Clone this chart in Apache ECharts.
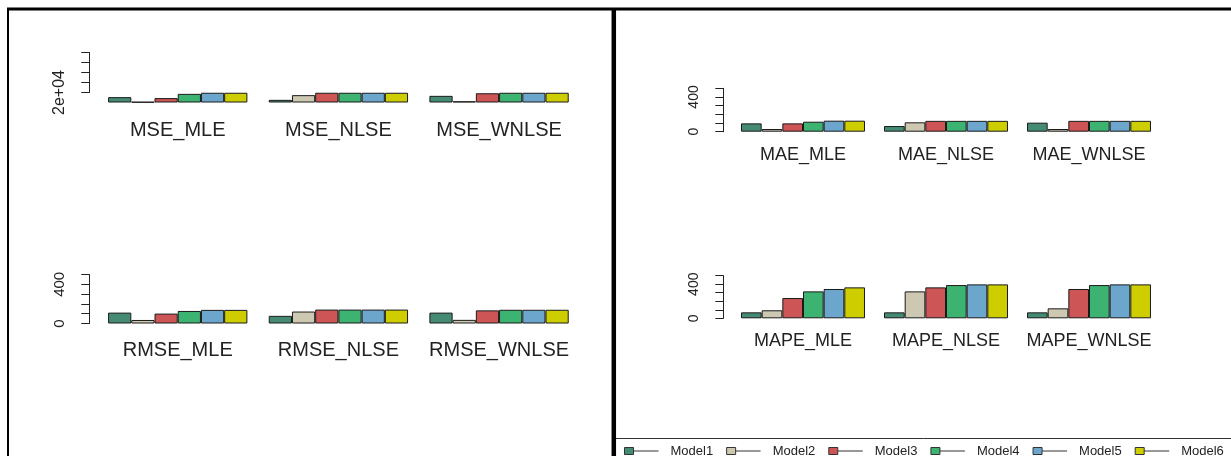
<!DOCTYPE html>
<html>
<head>
<meta charset="utf-8">
<script src="https://cdn.jsdelivr.net/npm/echarts@6/dist/echarts.min.js"></script>
<style>
  html, body { margin: 0; padding: 0; background: #ffffff; }
  #chart { width: 1231px; height: 456px; }
</style>
</head>
<body>
<div id="chart"></div>
<script>
// Models compared in every panel
const models = ['Model1', 'Model2', 'Model3', 'Model4', 'Model5', 'Model6'];
const modelColors = ['#458B74', '#CDC8B1', '#CD5555', '#3CB371', '#6CA6CD', '#CDCD00'];

// Error measure per estimation method
const mseCategories = ['MSE_MLE', 'MSE_NLSE', 'MSE_WNLSE'];
const rmseCategories = ['RMSE_MLE', 'RMSE_NLSE', 'RMSE_WNLSE'];
const maeCategories = ['MAE_MLE', 'MAE_NLSE', 'MAE_WNLSE'];
const mapeCategories = ['MAPE_MLE', 'MAPE_NLSE', 'MAPE_WNLSE'];

// One row per model; columns follow the category order (MLE, NLSE, WNLSE)
const mseValues = [
  [10700, 5300, 13300],
  [1200, 14700, 2500],
  [8800, 19500, 18500],
  [17300, 19500, 19500],
  [19500, 19500, 19500],
  [19500, 19500, 19500]
];
const rmseValues = [
  [111, 78, 111],
  [36, 122, 37],
  [101, 142, 134],
  [128, 142, 140],
  [139, 142, 140],
  [139, 142, 140]
];
const maeValues = [
  [96, 65, 104],
  [31, 108, 31],
  [96, 125, 125],
  [115, 125, 125],
  [127, 125, 125],
  [127, 125, 125]
];
const mapeValues = [
  [70, 70, 70],
  [94, 316, 117],
  [238, 363, 344],
  [316, 390, 390],
  [344, 398, 398],
  [363, 398, 398]
];

// Value-axis ticks and the ones that carry a label
const mseTicks = { min: 20000, max: 100000, step: 20000 };
const mseTickLabels = [20000];
const errTicks = { min: 0, max: 500, step: 100 };
const errTickLabels = [0, 400];

const FONT = '"Liberation Sans", Arial, Helvetica, sans-serif';

// R-style scientific label, e.g. 20000 -> "2e+04"
function sciLabel(v) {
  if (v === 0) return '0';
  if (Math.abs(v) < 1000) return String(v);
  const [m, e] = v.toExponential(0).split('e');
  const sign = e[0];
  const digits = e.slice(1).padStart(2, '0');
  return m + 'e' + sign + digits;
}

const grid = [], xAxis = [], yAxis = [], series = [];

function addPanel(p) {
  const g = grid.length;
  const plotH = p.zeroY - p.topY;
  // bars
  grid.push({ left: p.catLeft, top: p.topY, width: p.catWidth, height: plotH });
  xAxis.push({
    type: 'category', gridIndex: g, data: p.categories,
    axisLine: { show: false }, axisTick: { show: false }, splitLine: { show: false },
    axisLabel: { fontFamily: FONT, fontSize: p.nameSize, color: '#222', margin: p.nameMargin, interval: 0 }
  });
  yAxis.push({ type: 'value', gridIndex: g, min: 0, max: p.ticks.max, show: false });
  models.forEach((name, m) => {
    series.push({
      type: 'bar', name, xAxisIndex: g, yAxisIndex: g,
      data: p.values[m],
      barGap: '0%', barCategoryGap: '13.3%',
      itemStyle: { color: modelColors[m], borderColor: '#1a1a1a', borderWidth: 1 },
      emphasis: { disabled: true }
    });
  });
  // the value axis, drawn only across its tick span
  const a = grid.length;
  const spanBottom = p.zeroY - (p.ticks.min / p.ticks.max) * plotH;
  grid.push({ left: p.spineX, top: p.topY, width: 1, height: spanBottom - p.topY });
  xAxis.push({ type: 'value', gridIndex: a, min: 0, max: 1, show: false });
  yAxis.push({
    type: 'value', gridIndex: a, min: p.ticks.min, max: p.ticks.max, interval: p.ticks.step,
    axisLine: { show: true, lineStyle: { color: '#222', width: 1 } },
    axisTick: { show: true, length: 8, lineStyle: { color: '#222', width: 1 } },
    splitLine: { show: false },
    axisLabel: {
      rotate: 90, margin: p.tickMargin, fontFamily: FONT, fontSize: p.tickSize, color: '#222',
      formatter: v => (p.labelled.includes(v) ? sciLabel(v) : '')
    }
  });
}

// left column
addPanel({ categories: mseCategories, values: mseValues, ticks: mseTicks, labelled: mseTickLabels,
  catLeft: 97.4, catWidth: 482, spineX: 89.3, zeroY: 102.5, topY: 52.5,
  nameSize: 20, nameMargin: 18, tickSize: 16, tickMargin: 22 });
addPanel({ categories: rmseCategories, values: rmseValues, ticks: errTicks, labelled: errTickLabels,
  catLeft: 97.4, catWidth: 482, spineX: 89.3, zeroY: 323.5, topY: 274.5,
  nameSize: 20, nameMargin: 17, tickSize: 15, tickMargin: 22 });
// right column
addPanel({ categories: maeCategories, values: maeValues, ticks: errTicks, labelled: errTickLabels,
  catLeft: 731.5, catWidth: 429, spineX: 723.3, zeroY: 131.7, topY: 88.3,
  nameSize: 18, nameMargin: 14, tickSize: 14, tickMargin: 22 });
addPanel({ categories: mapeCategories, values: mapeValues, ticks: errTicks, labelled: errTickLabels,
  catLeft: 731.5, catWidth: 429, spineX: 723.3, zeroY: 318.3, topY: 275.7,
  nameSize: 18, nameMargin: 14, tickSize: 14, tickMargin: 22 });

const chart = echarts.init(document.getElementById('chart'), null, { renderer: 'canvas' });
chart.setOption({
  animation: false,
  backgroundColor: '#ffffff',
  grid, xAxis, yAxis, series,
  legend: {
    data: models,
    left: 624, top: 444.5, padding: 0, width: 620,
    icon: 'path://M0,0 H9 V7 H0 Z M9,3.5 H34',
    itemWidth: 34, itemHeight: 7, itemGap: 13,
    itemStyle: { borderColor: '#333', borderWidth: 1 },
    textStyle: { fontFamily: FONT, fontSize: 13, color: '#222', padding: [4, 0, 0, 7] },
    selectedMode: false
  },
  graphic: [
    // outer frame and panel divider
    { type: 'line', shape: { x1: 7, y1: 9, x2: 1231, y2: 9 }, style: { stroke: '#000', lineWidth: 3 } },
    { type: 'line', shape: { x1: 8, y1: 8, x2: 8, y2: 456 }, style: { stroke: '#000', lineWidth: 2 } },
    { type: 'line', shape: { x1: 613.8, y1: 8, x2: 613.8, y2: 456 }, style: { stroke: '#000', lineWidth: 4.5 } },
    // legend box edge
    { type: 'line', shape: { x1: 616, y1: 438.5, x2: 1231, y2: 438.5 }, style: { stroke: '#333', lineWidth: 1 } }
  ]
});
</script>
</body>
</html>
